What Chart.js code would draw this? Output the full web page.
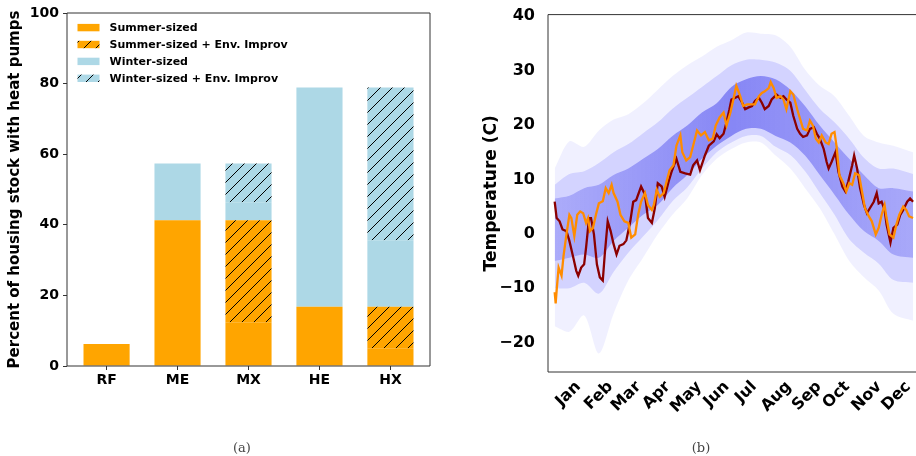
<!DOCTYPE html>
<html>
<head>
<meta charset="utf-8">
<script src="https://cdn.jsdelivr.net/npm/chart.js@4"></script>
<style>
  html, body { margin: 0; padding: 0; background: #fff; }
  #wrap { position: relative; width: 916px; height: 456px; overflow: hidden; }
  canvas { position: absolute; top: 0; }
  #barCanvas { left: 0; }
  #tempCanvas { left: 460px; }
  .caption {
    position: absolute; top: 440px; line-height: 15px;
    font-family: 'DejaVu Serif', serif; font-size: 13px; color: #444;
    transform: translateX(-50%);
  }
</style>
</head>
<body>
<div id="wrap">
  <canvas id="barCanvas" width="460" height="456"></canvas>
  <canvas id="tempCanvas" width="456" height="456"></canvas>
  <div class="caption" style="left:242px">(a)</div>
  <div class="caption" style="left:701px">(b)</div>
</div>
<script>
// ---- panel (a): share of housing stock ----
const scenarios = ['RF', 'ME', 'MX', 'HE', 'HX'];
const summerSized = [6.2, 41.3, 12.4, 16.8, 5.0];
const summerEnv = [0, 0, 28.9, 0, 11.8];
const winterSized = [0, 16.1, 5.1, 62.1, 18.8];
const winterEnv = [0, 0, 11.0, 0, 43.3];
const pctTicks = [0, 20, 40, 60, 80, 100];

// ---- panel (b): daily temperature ----
const monthNames = ['Jan', 'Feb', 'Mar', 'Apr', 'May', 'Jun', 'Jul', 'Aug', 'Sep', 'Oct', 'Nov', 'Dec'];
const monthDays = [14, 45, 73, 104, 134, 165, 195, 226, 257, 287, 318, 348];
const tempTicks = [-20, -10, 0, 10, 20, 30, 40];

const obsDays = [0,2,5,8,12,15,19,22,24,27,30,32,35,37,40,43,46,49,51,54,57,60,63,66,70,73,77,80,83,88,
  92,95,99,102,105,109,112,116,119,124,128,133,138,141,145,148,153,157,162,165,168,172,175,178,180,184,187,191,194,197,
  201,204,208,211,214,218,221,226,230,233,236,240,243,247,250,253,257,260,264,267,270,274,277,279,282,286,289,293,296,299,
  303,305,308,311,315,318,321,325,328,330,333,336,338,342,345,349,352,355,359,362,365];
const obsTemps = [5.9,2.9,2.3,0.8,0.5,-1.3,-4.4,-6.8,-7.7,-6.2,-5.6,-2.5,2.9,2.9,-0.1,-5.6,-8.0,-8.6,-3.8,2.3,
  0.5,-1.9,-3.8,-2.2,-1.9,-1.2,2.3,5.9,6.2,8.7,7.2,2.9,2.0,4.7,9.3,8.7,6.8,9.6,11.4,13.8,
  11.4,11.1,10.9,12.6,13.5,11.7,14.4,16.2,17.0,18.3,17.6,18.4,20.5,22.9,24.7,25.0,25.3,24.1,22.9,23.2,
  23.5,24.4,25.0,24.1,22.9,23.5,24.7,25.6,25.0,25.3,24.7,24.1,21.7,19.3,18.4,17.8,18.1,19.3,19.6,18.4,
  17.5,15.6,13.2,12.0,13.2,15.0,11.4,8.7,7.8,9.6,12.6,14.4,12.0,8.4,5.3,3.8,4.7,5.9,7.5,5.6,
  5.9,4.4,1.7,-1.6,1.1,1.7,3.5,4.4,5.9,6.5,5.9];

const simDays = [0,1,2,4,7,9,12,15,17,20,23,26,29,32,34,36,39,42,45,49,52,55,58,60,64,67,71,75,78,82,
  85,88,92,95,99,101,104,107,111,114,117,121,124,128,130,134,138,141,145,149,153,157,161,164,168,172,175,179,182,185,
  189,192,196,201,204,208,211,214,218,220,223,226,230,233,236,240,243,247,250,253,257,260,263,266,269,272,276,279,282,285,
  287,290,294,297,300,303,306,310,313,316,320,323,327,330,333,336,338,341,345,348,351,355,358,361,365];
const simTemps = [-10.7,-12.8,-10.4,-6.2,-7.7,-4.1,-0.1,3.5,2.9,-0.4,3.5,4.1,3.8,2.0,2.9,0.5,1.1,3.5,5.6,6.0,
  8.4,7.5,9.0,7.5,5.9,3.5,2.3,2.0,-0.7,-0.1,3.5,5.9,7.5,5.3,4.4,5.3,8.1,6.8,7.5,9.6,
  11.7,12.6,16.2,18.1,15.0,13.5,14.1,16.2,19.0,18.1,18.7,17.2,17.5,19.9,21.4,22.3,19.9,22.3,24.7,27.2,
  25.3,23.5,23.8,23.8,23.8,25.3,25.9,26.2,26.8,27.9,26.8,25.0,25.3,24.7,22.9,26.2,25.6,22.9,21.1,19.3,
  19.0,20.8,19.9,17.5,16.8,18.1,16.8,16.5,18.4,18.7,16.2,10.8,9.3,7.8,9.3,9.0,11.1,10.8,7.8,4.7,
  3.2,2.3,-0.1,1.1,3.5,5.3,2.9,-0.1,-0.7,1.7,3.5,5.0,4.4,3.2,2.9];

// ensemble spread, read as envelopes (outer / middle / core)
const bandDays = [0,15,30,45,60,75,90,105,120,135,150,165,180,195,210,225,240,255,270,285,300,315,330,345,365];
const outerHigh = [12,17,16,19,21,22,24,26.5,29,31,32.6,34.4,35.6,37,36.8,36.5,34.4,30.2,27.2,25.3,21.7,18,16.8,16.2,15];
const outerLow = [-17,-18,-15,-22,-14.7,-8.6,-4.4,-0.1,3.5,6.5,10.8,13.8,15.6,16.8,16.8,14.4,12,8.4,4.7,-0.1,-5,-8,-10.4,-14.7,-16];
const midHigh = [9,11,11.5,13,15,16.5,18.5,20.5,23,25,27,29,31,32,32,31.5,30,26.5,23,20.5,17.5,14,12,12,11];
const midLow = [-10,-10,-9,-11,-7,-3.5,-0.5,2.5,6,8.5,12,15,16.8,18,18,16,14.5,11.5,7.5,3.5,-1,-3.5,-5.5,-8.5,-9];
const coreHigh = [6.5,7,8.4,9,10.8,12,13.8,15.6,18,19.9,22.3,24,27,28.4,29,28.4,26.5,23.5,19.9,16.8,13.8,10.8,8.4,8.4,7.8];
const coreLow = [-5,-4.4,-3.8,-4.4,-1.3,1.1,3.5,5.3,8.4,10.8,13.8,16.2,18,19.3,19.3,18,16.8,14.4,10.8,7.2,3.5,0.5,-1.3,-3.8,-4.4];

const ORANGE = '#FFA500';
const LIGHTBLUE = '#ADD8E6';
const boldFont = size => ({ family: 'DejaVu Sans', size: size, weight: 'bold' });

// diagonal hatch like matplotlib '/'
function hatch(ctx, bg) {
    const tile = document.createElement('canvas');
    tile.width = 12; tile.height = 12;
    const g = tile.getContext('2d');
    g.fillStyle = bg;
    g.fillRect(0, 0, 12, 12);
    g.strokeStyle = '#000';
    g.lineWidth = 1;
    g.beginPath();
    g.moveTo(0, 12); g.lineTo(12, 0);
    g.moveTo(-6, 6); g.lineTo(6, -6);
    g.moveTo(6, 18); g.lineTo(18, 6);
    g.stroke();
    return ctx.createPattern(tile, 'repeat');
}

// box around the plot area
const framePlugin = {
    id: 'frame',
    afterDraw(chart, args, opts) {
        const { ctx, chartArea: a } = chart;
        const sides = opts.sides || 'ltrb';
        ctx.save();
        ctx.strokeStyle = '#333';
        ctx.lineWidth = 1;
        ctx.beginPath();
        if (sides.includes('l')) { ctx.moveTo(a.left, a.top); ctx.lineTo(a.left, a.bottom); }
        if (sides.includes('t')) { ctx.moveTo(a.left, a.top); ctx.lineTo(a.right, a.top); }
        if (sides.includes('r')) { ctx.moveTo(a.right, a.top); ctx.lineTo(a.right, a.bottom); }
        if (sides.includes('b')) { ctx.moveTo(a.left, a.bottom); ctx.lineTo(a.right, a.bottom); }
        ctx.stroke();
        ctx.restore();
    }
};

// legend inside the top-left corner of panel (a)
const boxLegend = {
    id: 'boxLegend',
    afterDraw(chart) {
        const { ctx, chartArea: a } = chart;
        ctx.save();
        ctx.font = 'bold 11px "DejaVu Sans"';
        ctx.textBaseline = 'middle';
        chart.data.datasets.forEach((ds, i) => {
            const y = a.top + 14.6 + i * 16.9;
            ctx.fillStyle = ds.backgroundColor;
            ctx.fillRect(a.left + 10.5, y - 3.7, 22, 7.4);
            ctx.fillStyle = '#000';
            ctx.fillText(ds.label, a.left + 42.5, y + 0.5);
        });
        ctx.restore();
    }
};

// month names, rotated 45 degrees and centred under each month
const monthLabels = {
    id: 'monthLabels',
    afterDraw(chart) {
        const { ctx, chartArea: a } = chart;
        const xs = chart.scales.x;
        ctx.save();
        ctx.font = 'bold 16px "DejaVu Sans"';
        ctx.fillStyle = '#000';
        ctx.textAlign = 'center';
        ctx.textBaseline = 'middle';
        monthNames.forEach((name, i) => {
            const w = ctx.measureText(name).width;
            const half = (w + 12) * 0.7071 / 2;
            ctx.save();
            ctx.translate(xs.getPixelForValue(monthDays[i]), a.bottom + 8 + half);
            ctx.rotate(-Math.PI / 4);
            ctx.fillText(name, 0, 0);
            ctx.restore();
        });
        ctx.restore();
    }
};

const barCtx = document.getElementById('barCanvas').getContext('2d');
const toPoints = arr => arr.map((v, i) => ({ x: i, y: v }));

new Chart(barCtx, {
    type: 'bar',
    data: {
        datasets: [
            { label: 'Summer-sized', data: toPoints(summerSized), backgroundColor: ORANGE },
            { label: 'Summer-sized + Env. Improv', data: toPoints(summerEnv), backgroundColor: hatch(barCtx, ORANGE) },
            { label: 'Winter-sized', data: toPoints(winterSized), backgroundColor: LIGHTBLUE },
            { label: 'Winter-sized + Env. Improv', data: toPoints(winterEnv), backgroundColor: hatch(barCtx, LIGHTBLUE) }
        ]
    },
    options: {
        responsive: false,
        animation: false,
        devicePixelRatio: 1,
        layout: { padding: { left: 0, right: 30, top: 13, bottom: 0 } },
        datasets: { bar: { barPercentage: 0.65, categoryPercentage: 1, borderWidth: 0 } },
        plugins: {
            legend: { display: false },
            tooltip: { enabled: false },
            frame: { sides: 'ltrb' }
        },
        scales: {
            x: {
                type: 'linear',
                min: -0.5575,
                max: 4.5575,
                offset: false,
                stacked: true,
                afterBuildTicks: s => { s.ticks = scenarios.map((_, i) => ({ value: i })); },
                afterFit: s => { s.height = 90; },
                ticks: {
                    callback: v => scenarios[v],
                    font: boldFont(14),
                    color: '#000',
                    padding: 2,
                    maxRotation: 0,
                    autoSkip: false
                },
                grid: { offset: false, drawOnChartArea: false, drawTicks: true, tickLength: 4, color: '#333' },
                border: { display: false }
            },
            y: {
                min: 0,
                max: 100,
                stacked: true,
                afterBuildTicks: s => { s.ticks = pctTicks.map(v => ({ value: v })); },
                afterFit: s => { s.width = 67; },
                ticks: { font: boldFont(14), color: '#000', padding: 4 },
                grid: { drawOnChartArea: false, drawTicks: true, tickLength: 4, color: '#333' },
                border: { display: false },
                title: {
                    display: true,
                    text: 'Percent of housing stock with heat pumps',
                    font: boldFont(15),
                    color: '#000',
                    padding: { top: 6 }
                }
            }
        }
    },
    plugins: [framePlugin, boxLegend]
});

const pairUp = (xs, ys) => xs.map((x, i) => ({ x: x, y: ys[i] }));
const band = (vals, fill, color, order) => ({
    data: pairUp(bandDays, vals),
    borderWidth: 0,
    pointRadius: 0,
    tension: 0.3,
    fill: fill,
    backgroundColor: color,
    order: order
});

// the dense part of the ensemble is darker in summer than in winter
function coreShade(context) {
    const area = context.chart.chartArea;
    if (!area) return 'rgba(20,20,230,0.3)';
    const g = context.chart.ctx.createLinearGradient(area.left, 0, area.right, 0);
    g.addColorStop(0, 'rgba(20,20,230,0.2)');
    g.addColorStop(0.5, 'rgba(20,20,230,0.4)');
    g.addColorStop(1, 'rgba(20,20,230,0.22)');
    return g;
}

new Chart(document.getElementById('tempCanvas').getContext('2d'), {
    type: 'line',
    data: {
        datasets: [
            band(outerHigh, false, 'transparent', 10),
            band(outerLow, '-1', 'rgba(0,0,255,0.06)', 10),
            band(midHigh, false, 'transparent', 9),
            band(midLow, '-1', 'rgba(0,0,255,0.12)', 9),
            band(coreHigh, false, 'transparent', 8),
            band(coreLow, '-1', coreShade, 8),
            { label: 'Observed', data: pairUp(obsDays, obsTemps), borderColor: '#8B0000', borderWidth: 2.3,
              pointRadius: 0, fill: false, order: 2 },
            { label: 'Simulated', data: pairUp(simDays, simTemps), borderColor: '#FF8C00', borderWidth: 2.3,
              pointRadius: 0, fill: false, order: 1 }
        ]
    },
    options: {
        responsive: false,
        animation: false,
        devicePixelRatio: 1,
        layout: { padding: { left: 0, right: 0, top: 11, bottom: 0 } },
        plugins: {
            legend: { display: false },
            tooltip: { enabled: false },
            frame: { sides: 'ltb' }
        },
        scales: {
            x: {
                type: 'linear',
                min: -6.8,
                max: 368,
                afterBuildTicks: s => { s.ticks = monthDays.map(v => ({ value: v })); },
                afterFit: s => { s.height = 84; },
                ticks: { display: false },
                grid: { display: false },
                border: { display: false }
            },
            y: {
                min: -25.4,
                max: 40.3,
                afterBuildTicks: s => { s.ticks = tempTicks.map(v => ({ value: v })); },
                afterFit: s => { s.width = 88; },
                ticks: {
                    callback: v => (v < 0 ? '\u2212' + (-v) : String(v)),
                    font: boldFont(16),
                    color: '#000',
                    padding: 5
                },
                grid: { display: false },
                border: { display: false },
                title: {
                    display: true,
                    text: 'Temperature (C)',
                    font: boldFont(17),
                    color: '#000',
                    padding: { top: 21 }
                }
            }
        }
    },
    plugins: [framePlugin, monthLabels]
});
</script>
</body>
</html>
